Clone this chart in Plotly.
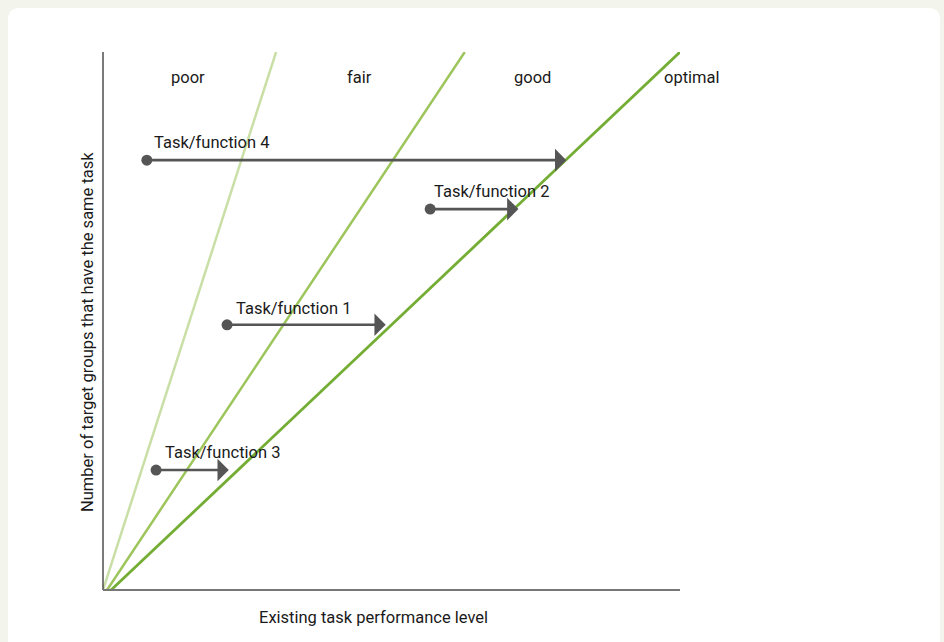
import plotly.graph_objects as go

# ---- data ----
zone_labels = ["poor", "fair", "good", "optimal"]
zone_label_x = [14.7, 44.5, 74.5, 102.1]
zone_label_y = [95.2, 95.2, 95.2, 95.2]

boundary_x0 = [0.0, 0.7, 1.4]
boundary_x1 = [30.0, 62.7, 100.0]
boundary_y0 = [0, 0, 0]
boundary_y1 = [100, 100, 100]
boundary_colors = ["#c9dfa6", "#9dc55c", "#74ad34"]
boundary_widths = [2.5, 2.5, 2.8]

tasks = ["Task/function 4", "Task/function 2", "Task/function 1", "Task/function 3"]
task_start_x = [7.6, 56.7, 21.5, 9.2]
task_end_x = [80.3, 72.0, 49.0, 21.8]
task_y = [79.9, 70.8, 49.3, 22.3]
task_label_x = [8.5, 57.1, 22.7, 10.4]
task_label_y = [83.1, 74.0, 52.4, 25.5]

FONT = "Roboto, Liberation Sans Narrow, sans-serif"
FS = 16.5
W, H = 944, 642
ML, MR, MT, MB = 103, 264, 52, 52
PW, PH = W - ML - MR, H - MT - MB

def px2paper(px, py):
    return (px - ML) / PW, (H - MB - py) / PH

fig = go.Figure()

for i in range(3):
    fig.add_trace(go.Scatter(
        x=[boundary_x0[i], boundary_x1[i]], y=[boundary_y0[i], boundary_y1[i]],
        mode="lines", line=dict(color=boundary_colors[i], width=boundary_widths[i]),
        hoverinfo="skip", showlegend=False, cliponaxis=False))

fig.add_trace(go.Scatter(
    x=task_start_x, y=task_y, mode="markers",
    marker=dict(color="#555555", size=11), showlegend=False, hoverinfo="skip",
    cliponaxis=False))

annotations = []
for i in range(len(tasks)):
    annotations.append(dict(
        x=task_end_x[i], y=task_y[i], ax=task_start_x[i], ay=task_y[i],
        xref="x", yref="y", axref="x", ayref="y", text="", showarrow=True,
        arrowhead=1, arrowsize=1.45, arrowwidth=2.6, arrowcolor="#555555"))
    annotations.append(dict(
        x=task_label_x[i], y=task_label_y[i], xref="x", yref="y", text=tasks[i],
        showarrow=False, xanchor="left", yanchor="middle",
        font=dict(family=FONT, size=FS, color="#1a1a1a")))

for lbl, lx, ly in zip(zone_labels, zone_label_x, zone_label_y):
    annotations.append(dict(
        x=lx / 100, y=ly / 100, xref="paper", yref="paper", text=lbl, showarrow=False,
        xanchor="center", yanchor="middle",
        font=dict(family=FONT, size=FS, color="#1a1a1a")))

tx, ty = px2paper(373, 617)
annotations.append(dict(x=tx, y=ty, xref="paper", yref="paper",
                        text="Existing task performance level", showarrow=False,
                        xanchor="center", yanchor="middle",
                        font=dict(family=FONT, size=FS, color="#1a1a1a")))
yx, yy = px2paper(87, 332)
annotations.append(dict(x=yx, y=yy, xref="paper", yref="paper",
                        text="Number of target groups that have the same task",
                        showarrow=False, textangle=-90,
                        xanchor="center", yanchor="middle",
                        font=dict(family=FONT, size=FS, color="#1a1a1a")))

# white rounded card
x0, y0 = px2paper(8, 8)
x1, y1 = px2paper(940, 670)
r = 12
rx, ry = r / PW, r / PH
path = (f"M {x0+rx},{y0} L {x1-rx},{y0} Q {x1},{y0} {x1},{y0-ry} "
        f"L {x1},{y1} L {x0},{y1} L {x0},{y0-ry} Q {x0},{y0} {x0+rx},{y0} Z")
shapes = [dict(type="path", xref="paper", yref="paper", path=path,
               fillcolor="white", line=dict(width=0), layer="below")]
# axes lines
shapes.append(dict(type="line", xref="paper", yref="paper", x0=0, x1=0, y0=0, y1=1,
                   line=dict(color="#222222", width=1.2)))
shapes.append(dict(type="line", xref="paper", yref="paper", x0=0, x1=1, y0=0, y1=0,
                   line=dict(color="#777777", width=2)))

fig.update_layout(
    width=W, height=H,
    margin=dict(l=ML, r=MR, t=MT, b=MB),
    paper_bgcolor="#f3f5ec", plot_bgcolor="rgba(0,0,0,0)",
    xaxis=dict(range=[0, 100], visible=False, fixedrange=True),
    yaxis=dict(range=[0, 100], visible=False, fixedrange=True),
    annotations=annotations, shapes=shapes, showlegend=False,
    font=dict(family=FONT),
)

fig.write_html(
    "out.html",
    config={"displayModeBar": False},
    post_script="document.body.style.margin='0';document.body.style.background='#f3f5ec';document.body.style.overflow='hidden';",
)
